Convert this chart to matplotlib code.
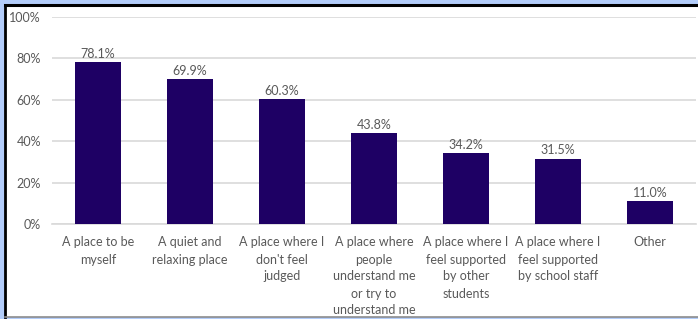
import matplotlib
matplotlib.use('Agg')
import matplotlib.pyplot as plt
from matplotlib.patches import Rectangle
from matplotlib.lines import Line2D
import numpy as np

# data
categories = [
    "A place to be\nmyself",
    "A quiet and\nrelaxing place",
    "A place where I\ndon't feel\njudged",
    "A place where\npeople\nunderstand me\nor try to\nunderstand me",
    "A place where I\nfeel supported\nby other\nstudents",
    "A place where I\nfeel supported\nby school staff",
    "Other",
]
values = [78.1, 69.9, 60.3, 43.8, 34.2, 31.5, 11.0]
y_ticks = [0, 20, 40, 60, 80, 100]

bar_color = '#1e0064'
text_color = '#595959'
grid_color = '#d9d9d9'

plt.rcParams['font.family'] = ['Lato', 'DejaVu Sans']

fig = plt.figure(figsize=(6.98, 3.19), dpi=100)
fig.patch.set_facecolor('#b3cdfa')

# white panel with frame lines
W, H = 698, 319
fig.patches.append(Rectangle((5 / W, 2 / H), 1, (H - 8) / H, transform=fig.transFigure,
                             facecolor='white', edgecolor='none', zorder=-5))
fig.lines.append(Line2D([4.5 / W, 1], [1 - 5 / H, 1 - 5 / H], transform=fig.transFigure,
                        color='black', lw=2.2))
fig.lines.append(Line2D([4.5 / W, 4.5 / W], [2 / H, 1 - 5 / H], transform=fig.transFigure,
                        color='black', lw=2.0))
fig.lines.append(Line2D([4.5 / W, 1], [2 / H, 2 / H], transform=fig.transFigure,
                        color='#8c8c8c', lw=1.2))

ax = fig.add_axes([52 / W, (H - 224) / H, 644 / W, 207 / H])
ax.set_facecolor('none')

x = np.arange(len(categories))
ax.bar(x, values, width=0.5, color=bar_color, zorder=3)
for xi, v in zip(x, values):
    ax.text(xi, v + 1.2, f'{v:.1f}%', ha='center', va='bottom', fontsize=9,
            color=text_color)

ax.set_xlim(-0.5, len(categories) - 0.5)
ax.set_ylim(0, 100)
ax.set_yticks(y_ticks)
ax.set_yticklabels([f'{t}%' for t in y_ticks], fontsize=9, color=text_color)
ax.set_xticks(x)
ax.set_xticklabels(categories, fontsize=9, color=text_color, linespacing=1.5)
ax.tick_params(axis='both', length=0)
ax.tick_params(axis='x', pad=9)
ax.tick_params(axis='y', pad=8)
ax.yaxis.grid(True, color=grid_color, lw=1.2)
ax.set_axisbelow(True)
for s in ['top', 'right', 'left']:
    ax.spines[s].set_visible(False)
ax.spines['bottom'].set_color(grid_color)
ax.spines['bottom'].set_linewidth(1.2)

plt.savefig('out.png', dpi=100, facecolor=fig.get_facecolor())
